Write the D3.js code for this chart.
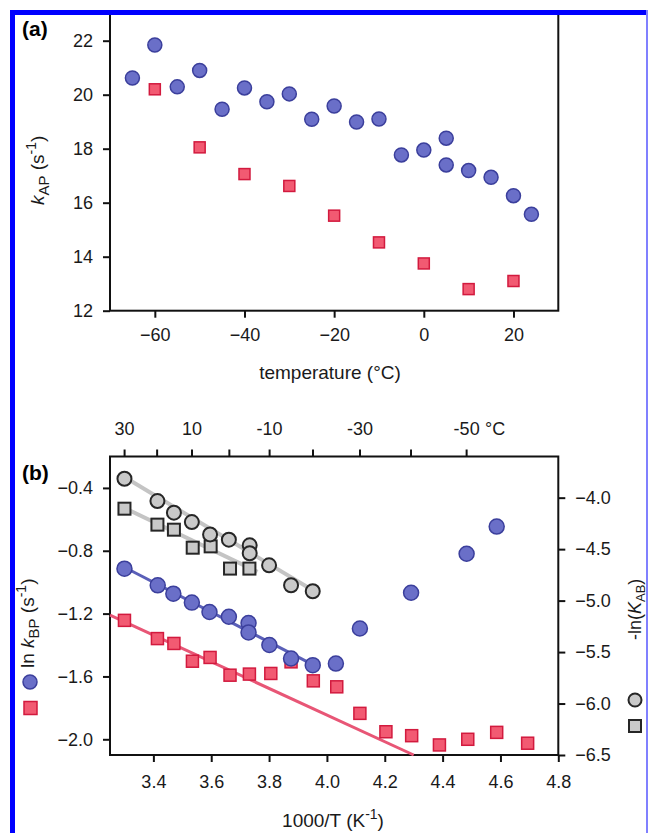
<!DOCTYPE html>
<html>
<head>
<meta charset="utf-8">
<script src="https://cdn.jsdelivr.net/npm/d3@7"></script>
<style>
  body { margin: 0; background: #fff; }
  svg { display: block; }
</style>
</head>
<body>
<svg width="648" height="833"></svg>
<script>
// Panel (a) data: temperature (°C) vs k_AP (s^-1)
const tempBlueA = [-65, -60, -55, -50, -45, -40, -35, -30, -25, -20, -15, -10, -5, 0, 5, 5, 10, 15, 20, 24];
const kBlueA = [20.62, 21.84, 20.29, 20.9, 19.46, 20.25, 19.74, 20.03, 19.09, 19.58, 18.99, 19.1, 17.77, 17.95, 18.39, 17.4, 17.19, 16.94, 16.26, 15.57];
const tempRedA = [-60, -50, -40, -30, -20, -10, 0, 10, 20];
const kRedA = [20.2, 18.05, 17.06, 16.62, 15.52, 14.53, 13.75, 12.8, 13.1];
const xTicksA = [-60, -40, -20, 0, 20];
const yTicksA = [12, 14, 16, 18, 20, 22];

// Panel (b) data: 1000/T vs ln k_BP (left axis) and -ln(K_AB) (right axis)
const invTBlue = [3.30, 3.415, 3.469, 3.533, 3.594, 3.661, 3.729, 3.729, 3.801, 3.876, 3.951, 4.031, 4.114, 4.291, 4.483, 4.587];
const lnBlue = [-0.914, -1.02, -1.073, -1.13, -1.19, -1.22, -1.26, -1.32, -1.40, -1.486, -1.528, -1.518, -1.295, -1.067, -0.819, -0.646];
const invTRed = [3.30, 3.414, 3.471, 3.535, 3.596, 3.665, 3.732, 3.806, 3.876, 3.953, 4.034, 4.114, 4.204, 4.293, 4.389, 4.487, 4.587, 4.694];
const lnRed = [-1.243, -1.359, -1.39, -1.503, -1.479, -1.592, -1.585, -1.581, -1.507, -1.628, -1.666, -1.835, -1.952, -1.977, -2.036, -2.0, -1.956, -2.025];
const invTGrayC = [3.30, 3.414, 3.471, 3.533, 3.596, 3.661, 3.733, 3.733, 3.80, 3.876, 3.951];
const lnKGrayC = [-3.816, -4.033, -4.146, -4.237, -4.357, -4.408, -4.463, -4.54, -4.657, -4.851, -4.909];
const invTGrayS = [3.30, 3.414, 3.471, 3.536, 3.598, 3.665, 3.732];
const lnKGrayS = [-4.107, -4.262, -4.311, -4.486, -4.473, -4.689, -4.689];
// Linear fit end points
const blueFit = [[3.30, -0.905], [3.951, -1.525]];
const redFit = [[3.25, -1.21], [4.30, -2.10]];
const grayCFit = [[3.30, -3.80], [3.951, -4.90]];
const graySFit = [[3.30, -4.10], [3.76, -4.72]];
const xTicksB = [3.4, 3.6, 3.8, 4.0, 4.2, 4.4, 4.6, 4.8];
const yTicksBL = [-2.0, -1.6, -1.2, -0.8, -0.4];
const yTicksBR = [-6.5, -6.0, -5.5, -5.0, -4.5, -4.0];
const topTemps = [30, 20, 10, 0, -10, -20, -30, -40, -50];

const font = "'Liberation Sans', Arial, sans-serif";
const blueFill = "#6a6fc8", blueStroke = "#3b3f9c";
const redFill = "#f25a72", redStroke = "#d21a3e";
const grayFill = "#c9c9c9", grayStroke = "#262626";

const svg = d3.select("svg");

// Scales
const xA = d3.scaleLinear().domain([-70, 30]).range([110, 558.3]);
const yA = d3.scaleLinear().domain([12, 23]).range([310.7, 13.7]);
const xB = d3.scaleLinear().domain([3.25, 4.8]).range([110, 558.3]);
const yBL = d3.scaleLinear().domain([-2.1, -0.2]).range([755, 456.5]);
const yBR = d3.scaleLinear().domain([-6.5, -3.6]).range([755, 456.5]);

function styleAxis(sel) {
    sel.selectAll("text").style("font-size", "18px").style("font-family", font).style("fill", "#1a1a1a");
    sel.selectAll("line").style("stroke", "#111").style("stroke-width", 2);
    sel.select(".domain").remove();
}

// ---------- Panel (a) ----------
svg.append("rect")
   .attr("x", 110).attr("y", 13).attr("width", 448.3).attr("height", 297.7)
   .attr("fill", "none").attr("stroke", "#111").attr("stroke-width", 2);

svg.append("g")
   .attr("transform", "translate(110,0)")
   .call(d3.axisLeft(yA).tickValues(yTicksA).tickSize(7).tickPadding(10).tickFormat(d3.format("d")))
   .call(styleAxis);

svg.append("g")
   .attr("transform", "translate(0,310.7)")
   .call(d3.axisBottom(xA).tickValues(xTicksA).tickSize(7).tickPadding(11).tickFormat(d3.format("d")))
   .call(styleAxis);

svg.append("g").selectAll("rect")
   .data(d3.zip(tempRedA, kRedA))
   .enter().append("rect")
   .attr("x", d => xA(d[0]) - 5.5).attr("y", d => yA(d[1]) - 5.5)
   .attr("width", 11).attr("height", 11)
   .attr("fill", redFill).attr("stroke", redStroke).attr("stroke-width", 1.5);

svg.append("g").selectAll("circle")
   .data(d3.zip(tempBlueA, kBlueA))
   .enter().append("circle")
   .attr("cx", d => xA(d[0])).attr("cy", d => yA(d[1])).attr("r", 7)
   .attr("fill", blueFill).attr("stroke", blueStroke).attr("stroke-width", 1.5);

svg.append("text")
   .attr("x", 330).attr("y", 379)
   .attr("text-anchor", "middle")
   .style("font-size", "19px").style("font-family", font).style("fill", "#1a1a1a")
   .text("temperature (°C)");

const labA = svg.append("text")
   .attr("transform", "translate(44,205) rotate(-90)")
   .style("font-size", "19px").style("font-family", font).style("fill", "#1a1a1a");
labA.append("tspan").style("font-style", "italic").text("k");
labA.append("tspan").attr("dy", 5).style("font-size", "15px").text("AP");
labA.append("tspan").attr("dy", -5).text(" (s");
labA.append("tspan").attr("dy", -8).style("font-size", "14px").text("-1");
labA.append("tspan").attr("dy", 8).text(")");

svg.append("text")
   .attr("x", 22).attr("y", 36)
   .style("font-size", "21px").style("font-weight", "bold").style("font-family", font)
   .text("(a)");

// ---------- Panel (b) ----------
svg.append("rect")
   .attr("x", 110).attr("y", 456.5).attr("width", 448.3).attr("height", 298.5)
   .attr("fill", "none").attr("stroke", "#111").attr("stroke-width", 2);

svg.append("g")
   .attr("transform", "translate(110,0)")
   .call(d3.axisLeft(yBL).tickValues(yTicksBL).tickSize(7).tickPadding(10).tickFormat(d3.format(".1f")))
   .call(styleAxis);

svg.append("g")
   .attr("transform", "translate(558.3,0)")
   .call(d3.axisRight(yBR).tickValues(yTicksBR).tickSize(7).tickPadding(10).tickFormat(d3.format(".1f")))
   .call(styleAxis);

svg.append("g")
   .attr("transform", "translate(0,755)")
   .call(d3.axisBottom(xB).tickValues(xTicksB).tickSize(7).tickPadding(13).tickFormat(d3.format(".1f")))
   .call(styleAxis);

// Top axis in °C, placed at 1000/T
svg.append("g")
   .attr("transform", "translate(0,456.5)")
   .call(d3.axisTop(xB)
           .tickValues(topTemps.map(t => 1000 / (t + 273.15)))
           .tickSize(7).tickPadding(15)
           .tickFormat((d, i) => Math.abs(topTemps[i]) % 20 === 10 ? topTemps[i] : ""))
   .call(styleAxis);

svg.append("text")
   .attr("x", xB(1000 / 223.15) + 19).attr("y", 434.5)
   .style("font-size", "18px").style("font-family", font).style("fill", "#1a1a1a")
   .text("°C");

const line = (yScale) => d3.line().x(d => xB(d[0])).y(d => yScale(d[1]));

// Fit lines
svg.append("path").datum(grayCFit).attr("d", line(yBR))
   .attr("fill", "none").attr("stroke", "#c4c4c4").attr("stroke-width", 4);
svg.append("path").datum(graySFit).attr("d", line(yBR))
   .attr("fill", "none").attr("stroke", "#c4c4c4").attr("stroke-width", 4);
svg.append("path").datum(blueFit).attr("d", line(yBL))
   .attr("fill", "none").attr("stroke", "#5a5fb8").attr("stroke-width", 3);
svg.append("path").datum(redFit).attr("d", line(yBL))
   .attr("fill", "none").attr("stroke", "#e85676").attr("stroke-width", 3);

// Markers
svg.append("g").selectAll("rect")
   .data(d3.zip(invTGrayS, lnKGrayS))
   .enter().append("rect")
   .attr("x", d => xB(d[0]) - 6).attr("y", d => yBR(d[1]) - 6)
   .attr("width", 12).attr("height", 12)
   .attr("fill", grayFill).attr("stroke", grayStroke).attr("stroke-width", 2);

svg.append("g").selectAll("circle")
   .data(d3.zip(invTGrayC, lnKGrayC))
   .enter().append("circle")
   .attr("cx", d => xB(d[0])).attr("cy", d => yBR(d[1])).attr("r", 7)
   .attr("fill", grayFill).attr("stroke", grayStroke).attr("stroke-width", 2);

svg.append("g").selectAll("rect")
   .data(d3.zip(invTRed, lnRed))
   .enter().append("rect")
   .attr("x", d => xB(d[0]) - 6).attr("y", d => yBL(d[1]) - 6)
   .attr("width", 12).attr("height", 12)
   .attr("fill", redFill).attr("stroke", redStroke).attr("stroke-width", 1.5);

svg.append("g").selectAll("circle")
   .data(d3.zip(invTBlue, lnBlue))
   .enter().append("circle")
   .attr("cx", d => xB(d[0])).attr("cy", d => yBL(d[1])).attr("r", 7.5)
   .attr("fill", blueFill).attr("stroke", blueStroke).attr("stroke-width", 1.5);

// Axis titles (b)
const labB = svg.append("text")
   .attr("transform", "translate(34,668) rotate(-90)")
   .style("font-size", "19px").style("font-family", font).style("fill", "#1a1a1a");
labB.append("tspan").text("ln ");
labB.append("tspan").style("font-style", "italic").text("k");
labB.append("tspan").attr("dy", 5).style("font-size", "15px").text("BP");
labB.append("tspan").attr("dy", -5).text(" (s");
labB.append("tspan").attr("dy", -8).style("font-size", "14px").text("-1");
labB.append("tspan").attr("dy", 8).text(")");

const labR = svg.append("text")
   .attr("transform", "translate(641,640) rotate(-90)")
   .style("font-size", "18px").style("font-family", font).style("fill", "#1a1a1a");
labR.append("tspan").text("-ln(");
labR.append("tspan").style("font-style", "italic").text("K");
labR.append("tspan").attr("dy", 4).style("font-size", "13px").text("AB");
labR.append("tspan").attr("dy", -4).text(")");

const labX = svg.append("text")
   .attr("x", 333).attr("y", 827)
   .attr("text-anchor", "middle")
   .style("font-size", "19px").style("font-family", font).style("fill", "#1a1a1a");
labX.append("tspan").text("1000/T (K");
labX.append("tspan").attr("dy", -8).style("font-size", "14px").text("-1");
labX.append("tspan").attr("dy", 8).text(")");

// Legend symbols beside axis titles
svg.append("circle").attr("cx", 30).attr("cy", 682).attr("r", 7)
   .attr("fill", blueFill).attr("stroke", blueStroke).attr("stroke-width", 1.5);
svg.append("rect").attr("x", 24).attr("y", 701.5).attr("width", 13).attr("height", 13)
   .attr("fill", redFill).attr("stroke", redStroke).attr("stroke-width", 1.5);
svg.append("circle").attr("cx", 635).attr("cy", 700).attr("r", 6.5)
   .attr("fill", grayFill).attr("stroke", grayStroke).attr("stroke-width", 2);
svg.append("rect").attr("x", 629).attr("y", 720).attr("width", 12).attr("height", 12)
   .attr("fill", grayFill).attr("stroke", grayStroke).attr("stroke-width", 2);

svg.append("text")
   .attr("x", 22).attr("y", 480)
   .style("font-size", "21px").style("font-weight", "bold").style("font-family", font)
   .text("(b)");

// Blue page border
svg.append("rect").attr("x", 10).attr("y", 10).attr("width", 5).attr("height", 823).attr("fill", "#0000ff");
svg.append("rect").attr("x", 10).attr("y", 10).attr("width", 638).attr("height", 5).attr("fill", "#0000ff");
svg.append("rect").attr("x", 646).attr("y", 10).attr("width", 2).attr("height", 823).attr("fill", "#8080ff");
</script>
</body>
</html>
